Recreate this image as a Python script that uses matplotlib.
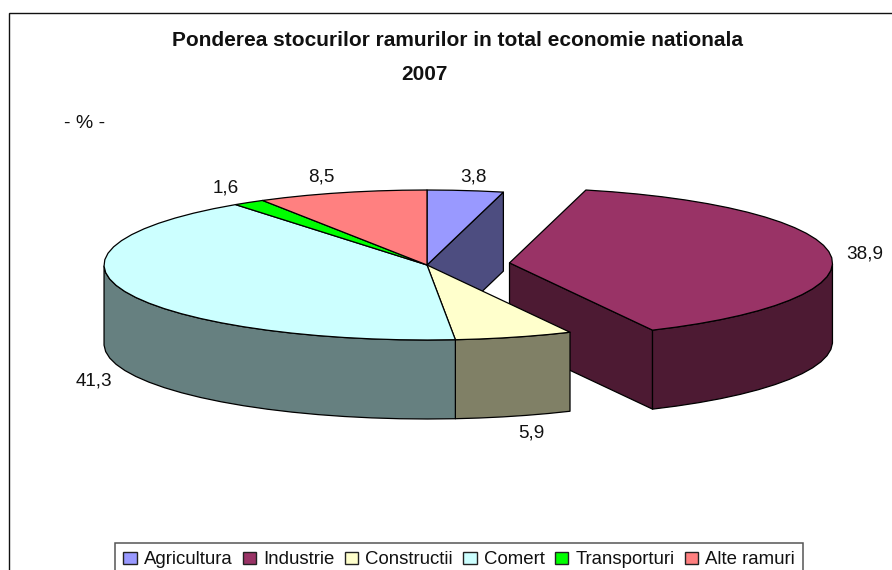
import matplotlib
matplotlib.use('Agg')
import matplotlib.pyplot as plt
from matplotlib.patches import Polygon, Patch, Rectangle
import numpy as np

plt.rcParams['font.family'] = ['Liberation Sans', 'DejaVu Sans']

categories = ['Agricultura', 'Industrie', 'Constructii', 'Comert', 'Transporturi', 'Alte ramuri']
values = [3.8, 38.9, 5.9, 41.3, 1.6, 8.5]
value_labels = ['3,8', '38,9', '5,9', '41,3', '1,6', '8,5']

top_colors = ['#9999FF', '#993366', '#FFFFCC', '#CCFFFF', '#00FF00', '#FF8080']
side_colors = ['#4D4D80', '#4D1A33', '#808066', '#668080', '#008000', '#804040']

# pie geometry, in pixels
cx, cy = 427.0, 265.0
rx, ry = 323.0, 75.0
depth = 79.0
explode = [0.0, 0.257, 0.0, 0.0, 0.0, 0.0]
label_pos = [(473, 177), (865, 254), (531, 433), (94, 381), (226, 188), (321, 177)]


def draw_slice(ax, i, start, end):
    mid = (start + end) / 2
    x0 = cx + explode[i] * rx * np.sin(mid)
    y0 = cy - explode[i] * ry * np.cos(mid)
    n = max(3, int((end - start) / (2 * np.pi) * 72) + 2)
    theta = np.linspace(start, end, n)
    pts = np.column_stack([x0 + rx * np.sin(theta), y0 - ry * np.cos(theta)])
    edge = dict(edgecolor='black', linewidth=0.9, joinstyle='round')
    down = np.array([0, depth])

    # end wall, shows only where the neighbour is pulled away
    if i in (0, 1):
        wall = np.array([[x0, y0], pts[-1], pts[-1] + down, [x0, y0 + depth]])
        ax.add_patch(Polygon(wall, facecolor=side_colors[i], **edge))

    # outer wall, front half of the rim only
    front = np.cos(theta) <= 0
    if front.sum() > 1:
        f = pts[front]
        ax.add_patch(Polygon(np.vstack([f, (f + down)[::-1]]), facecolor=side_colors[i], **edge))

    ax.add_patch(Polygon(np.vstack([[x0, y0], pts]), facecolor=top_colors[i], **edge))


fig = plt.figure(figsize=(8.92, 5.70), dpi=100)
ax = fig.add_axes([0, 0, 1, 1])
ax.set_xlim(0, 892)
ax.set_ylim(570, 0)
ax.axis('off')

# chart frame, right and bottom edges fall outside the picture
ax.add_patch(Rectangle((8.5, 12.5), 900, 580, facecolor='white', edgecolor='#111111', linewidth=1.0))

cum = np.cumsum([0] + values) / sum(values) * 2 * np.pi
for i in range(len(values)):
    draw_slice(ax, i, cum[i], cum[i + 1])

for (x, y), txt in zip(label_pos, value_labels):
    ax.text(x, y, txt, ha='center', va='center', fontsize=13.6, color='#111111')

ax.text(458, 41, 'Ponderea stocurilor ramurilor in total economie nationala',
        ha='center', va='center', fontsize=15, fontweight='bold', color='#111111')
ax.text(424, 75, '2007', ha='center', va='center', fontsize=15, fontweight='bold', color='#111111')
ax.text(84.5, 124, '- % -', ha='center', va='center', fontsize=14, color='#111111')

handles = [Patch(facecolor=c, edgecolor='#222222', linewidth=1.0) for c in top_colors]
leg = ax.legend(handles, categories, ncol=6, loc='upper left',
                bbox_to_anchor=(115 / 892, 1 - 543 / 570), frameon=True, fancybox=False,
                fontsize=13.4, handlelength=0.72, handleheight=0.62, handletextpad=0.38,
                columnspacing=0.55, borderpad=0.45, borderaxespad=0, labelcolor='#111111')
leg.get_frame().set_edgecolor('#555555')
leg.get_frame().set_linewidth(1.1)
leg.get_frame().set_alpha(1)

fig.savefig('out.png', dpi=100)
